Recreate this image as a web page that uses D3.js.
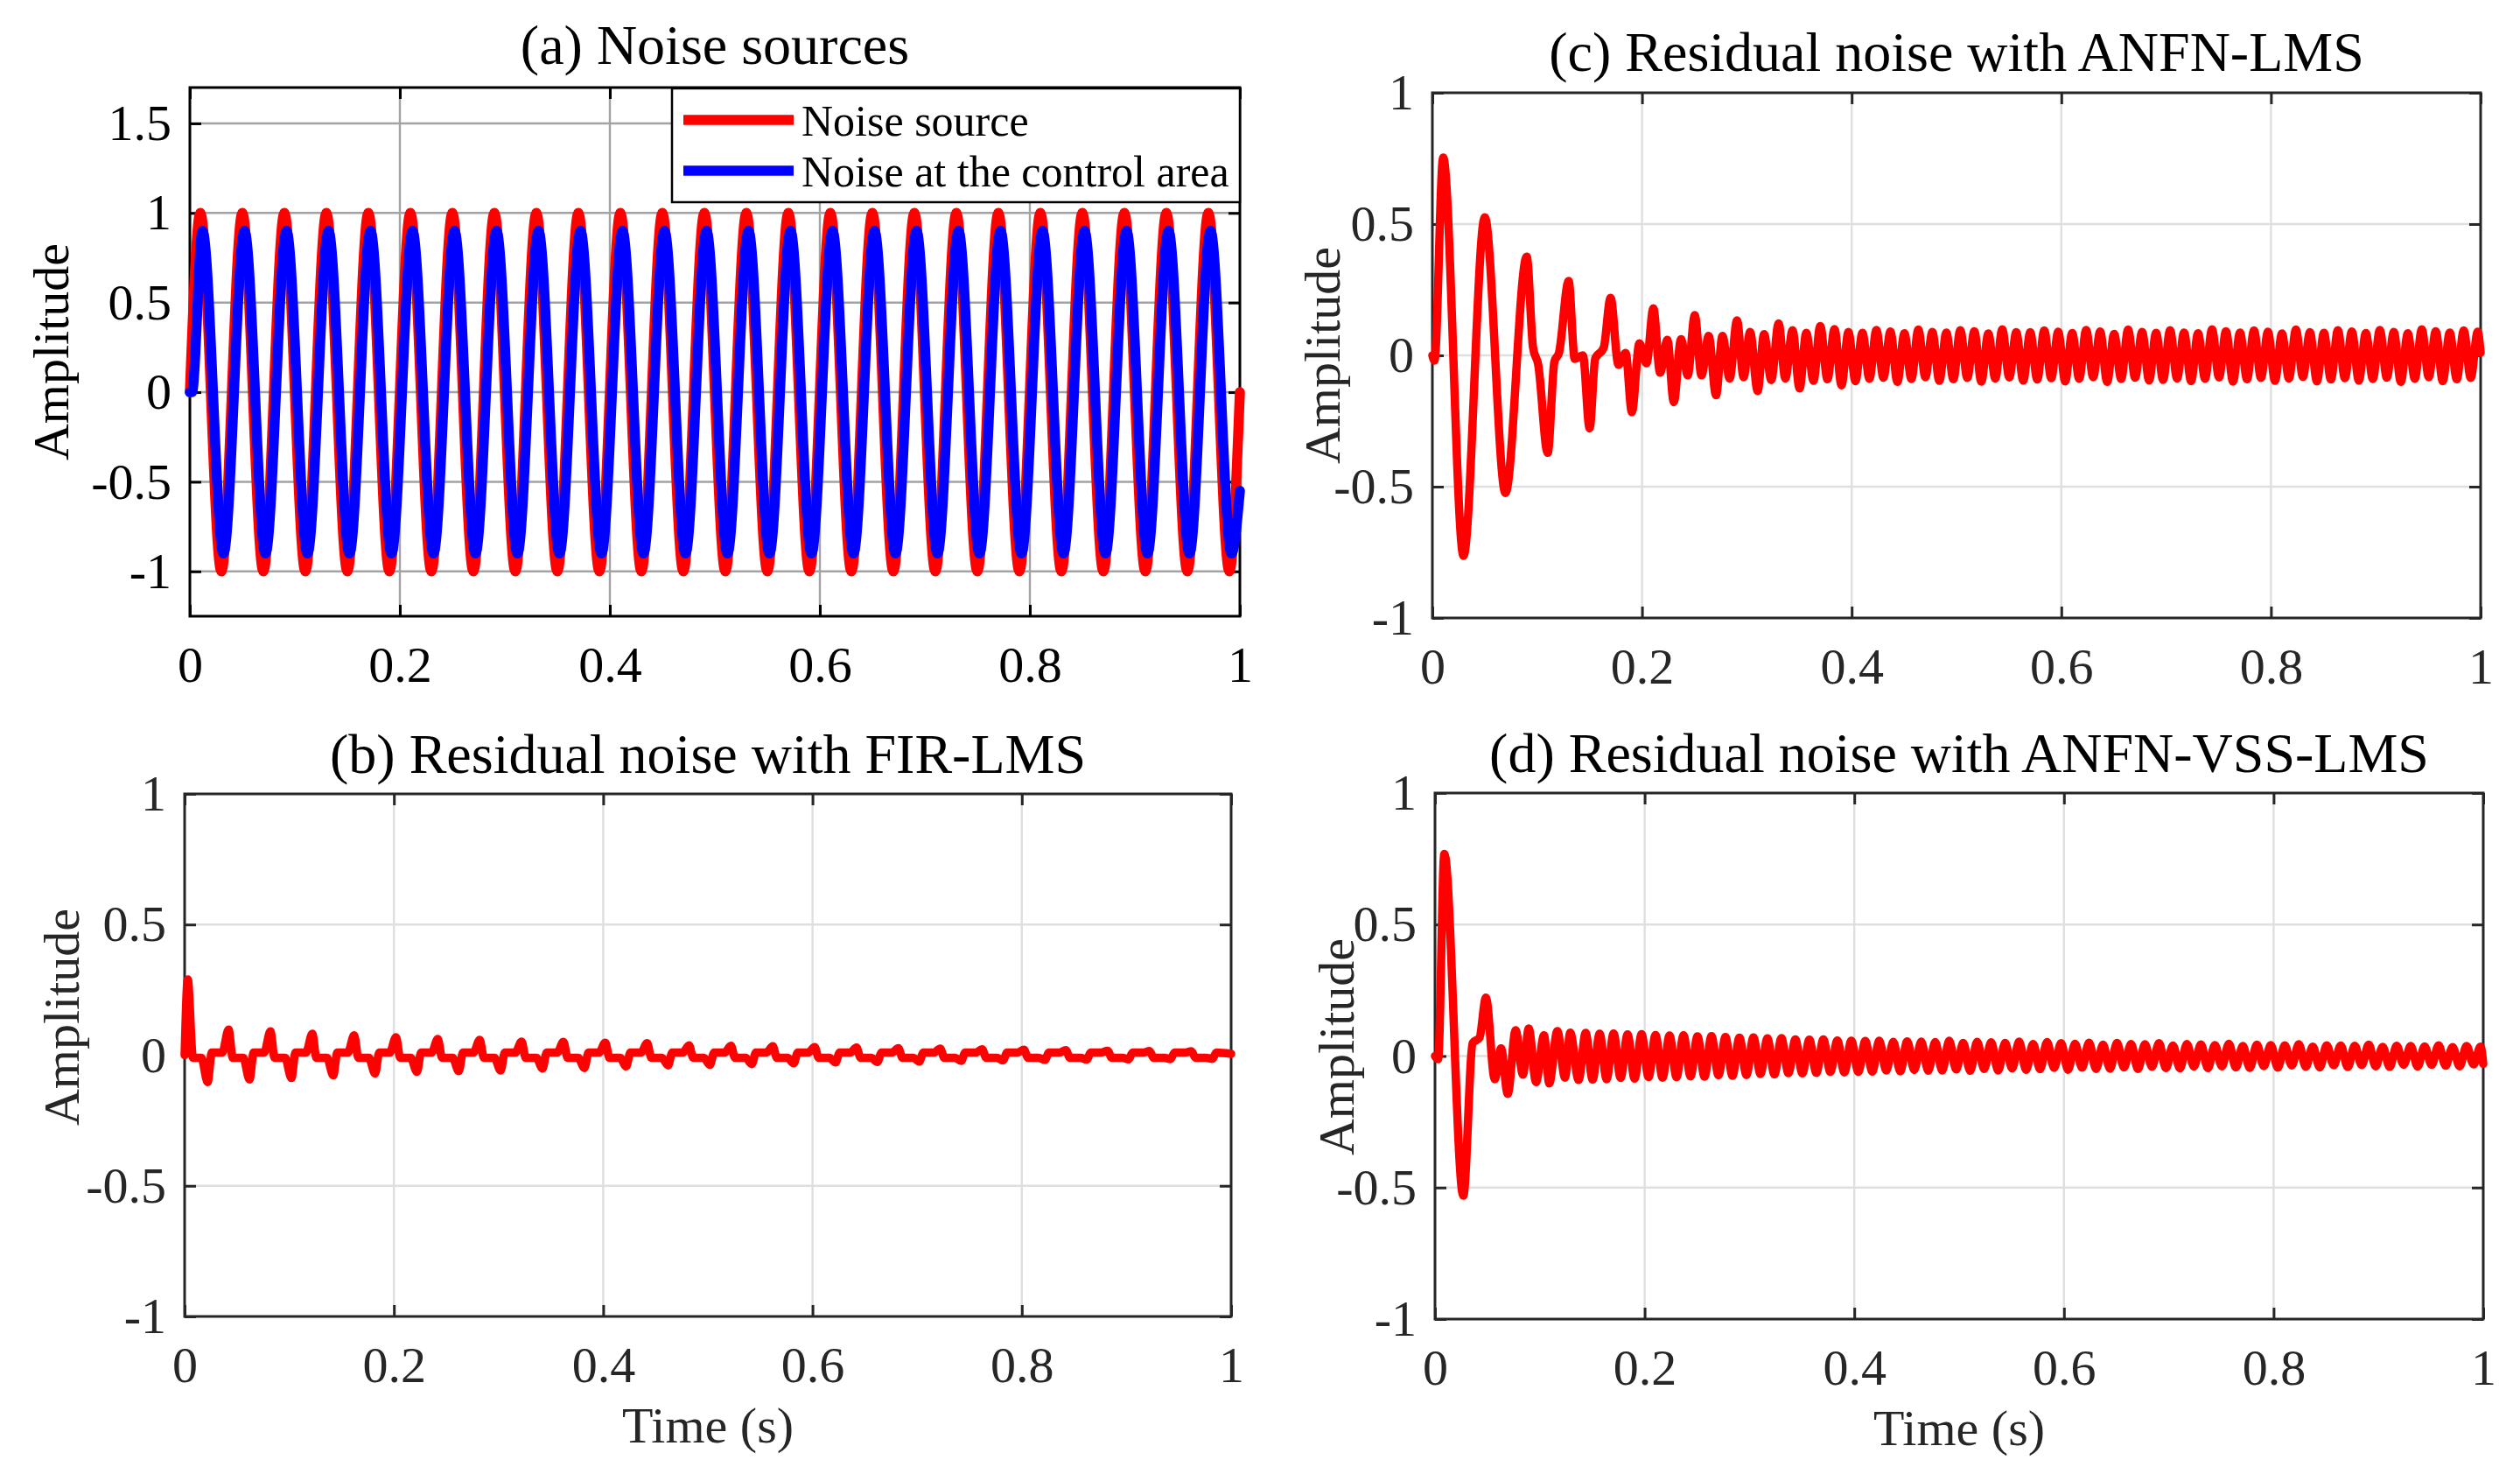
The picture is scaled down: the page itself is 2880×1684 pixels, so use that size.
<!DOCTYPE html>
<html><head><meta charset="utf-8">
<script src="https://cdn.jsdelivr.net/npm/d3@7"></script>
<style>
html,body{margin:0;padding:0;background:#fff;}
svg{display:block;}
</style></head><body>
<svg id="chart" width="2880" height="1684"></svg>
<script>
// ---------- tick labels / text ----------
const xTicks = [0, 0.2, 0.4, 0.6, 0.8, 1];
const xTickLabels = ["0", "0.2", "0.4", "0.6", "0.8", "1"];
const yTicksA = [-1, -0.5, 0, 0.5, 1, 1.5];
const yTickLabelsA = ["-1", "-0.5", "0", "0.5", "1", "1.5"];
const yTicksR = [-1, -0.5, 0, 0.5, 1];
const yTickLabelsR = ["-1", "-0.5", "0", "0.5", "1"];
const panelTitles = ["(a) Noise sources", "(b) Residual noise with FIR-LMS", "(c) Residual noise with ANFN-LMS", "(d) Residual noise with ANFN-VSS-LMS"];
const legendLabels = ["Noise source", "Noise at the control area"];
const yLabel = "Amplitude";
const xLabel = "Time (s)";

// ---------- (a) noise sources: extreme points ----------
const aSourceT = [0,0.01,0.03,0.05,0.07,0.09,0.11,0.13,0.15,0.17,0.19,0.21,0.23,0.25,0.27,0.29,0.31,0.33,0.35,0.37,0.39,0.41,0.43,0.45,0.47,0.49,0.51,0.53,0.55,0.57,0.59,0.61,0.63,0.65,0.67,0.69,0.71,0.73,0.75,0.77,0.79,0.81,0.83,0.85,0.87,0.89,0.91,0.93,0.95,0.97,0.99,1];
const aSourceV = [0,1,-1,1,-1,1,-1,1,-1,1,-1,1,-1,1,-1,1,-1,1,-1,1,-1,1,-1,1,-1,1,-1,1,-1,1,-1,1,-1,1,-1,1,-1,1,-1,1,-1,1,-1,1,-1,1,-1,1,-1,1,-1,0];
const aControlT = [0,0.002,0.012,0.032,0.052,0.072,0.092,0.112,0.132,0.152,0.172,0.192,0.212,0.232,0.252,0.272,0.292,0.312,0.332,0.352,0.372,0.392,0.412,0.432,0.452,0.472,0.492,0.512,0.532,0.552,0.572,0.592,0.612,0.632,0.652,0.672,0.692,0.712,0.732,0.752,0.772,0.792,0.812,0.832,0.852,0.872,0.892,0.912,0.932,0.952,0.972,0.992,1];
const aControlV = [0,0,0.9,-0.9,0.9,-0.9,0.9,-0.9,0.9,-0.9,0.9,-0.9,0.9,-0.9,0.9,-0.9,0.9,-0.9,0.9,-0.9,0.9,-0.9,0.9,-0.9,0.9,-0.9,0.9,-0.9,0.9,-0.9,0.9,-0.9,0.9,-0.9,0.9,-0.9,0.9,-0.9,0.9,-0.9,0.9,-0.9,0.9,-0.9,0.9,-0.9,0.9,-0.9,0.9,-0.9,0.9,-0.9,-0.55];

// ---------- (b) FIR-LMS residual: spikes ----------
const bStartT = [0, 0.003, 0.008];
const bStartV = [0, 0.29, -0.01];
const bPosT = [0.042,0.082,0.122,0.162,0.202,0.242,0.282,0.322,0.362,0.402,0.442,0.482,0.522,0.562,0.602,0.642,0.682,0.722,0.762,0.802,0.842,0.882,0.922,0.962];
const bPosV = [0.098,0.091,0.082,0.076,0.069,0.062,0.059,0.052,0.051,0.048,0.046,0.038,0.036,0.034,0.031,0.029,0.027,0.025,0.023,0.021,0.019,0.017,0.016,0.015];
const bNegT = [0.022,0.062,0.102,0.142,0.182,0.222,0.262,0.302,0.342,0.382,0.422,0.462,0.502,0.542,0.582,0.622,0.662,0.702,0.742,0.782,0.822,0.862,0.902,0.942,0.982];
const bNegV = [-0.103,-0.093,-0.087,-0.077,-0.070,-0.064,-0.061,-0.059,-0.051,-0.049,-0.043,-0.039,-0.037,-0.034,-0.031,-0.028,-0.026,-0.024,-0.022,-0.020,-0.018,-0.017,-0.016,-0.015,-0.014];
const bLevelAfterPos = -0.01;
const bLevelAfterNeg = 0.01;
const bEnd = [1, 0.005];

// ---------- (c) ANFN-LMS residual ----------
const cT = [0,0.002,0.0103,0.0297,0.050,0.0697,0.090,0.096,0.101,0.110,0.1164,0.1208,0.130,0.1358,0.1436,0.150,0.1553,0.1635,0.170,0.1775,0.1844,0.1903,0.1975,0.2043,0.2108,0.2172,0.2242,0.2303,0.2372,0.2436,0.2503,0.2567,0.2636,0.2706,0.2767,0.2836,0.2906,0.2969,0.3031,0.3103,0.3164,0.3233,0.3303,0.3367,0.3436,0.3503,0.3567,0.3636,0.3700,0.3769,0.3836,0.3903,0.3969];
const cV = [0,-0.02,0.753,-0.763,0.526,-0.524,0.376,0.031,-0.036,-0.371,-0.024,0.01,0.283,-0.013,0.0,-0.278,-0.013,0.03,0.219,-0.036,0.009,-0.216,0.046,-0.03,0.179,-0.066,0.059,-0.178,0.062,-0.076,0.153,-0.076,0.074,-0.152,0.074,-0.088,0.133,-0.083,0.089,-0.136,0.081,-0.094,0.122,-0.088,0.096,-0.126,0.086,-0.097,0.112,-0.091,0.100,-0.114,0.089];
const cSteadyStart = 0.4036, cSteadyStep = 0.00667;
const cSteadyV = [
 -0.098,0.086,-0.089,0.097,-0.085,0.091,
 -0.101,0.084,-0.090,0.098,-0.083,0.089,
 -0.097,0.087,-0.091,0.096,-0.086,0.092,
 -0.100,0.083,-0.088,0.099,-0.084,0.088,
 -0.096,0.088,-0.092,0.095,-0.087,0.090,
 -0.099,0.085,-0.089,0.097,-0.083,0.091,
 -0.101,0.082,-0.090,0.098,-0.085,0.089,
 -0.095,0.086,-0.093,0.096,-0.088,0.087,
 -0.098,0.084,-0.089,0.099,-0.084,0.092,
 -0.100,0.087,-0.091,0.095,-0.086,0.090,
 -0.097,0.083,-0.088,0.098,-0.082,0.088,
 -0.099,0.086,-0.092,0.096,-0.087,0.091,
 -0.096,0.085,-0.090,0.097,-0.085,0.089,
 -0.101,0.084,-0.089,0.099,-0.083,0.092,
 -0.098,0.087,-0.091,0.095,-0.086,0.090];
const cEnd = [1, 0.01];

// ---------- (d) ANFN-VSS-LMS residual ----------
const dT = [0,0.003,0.0089,0.027,0.036,0.0425,0.0486,0.057,0.063,0.0694,0.0769,0.0839,0.0894,0.0964,0.104,0.109,0.1167,0.124,0.129,0.137];
const dV = [0,-0.012,0.769,-0.531,0.05,0.07,0.222,-0.088,0.029,-0.144,0.098,-0.071,0.105,-0.099,0.079,-0.104,0.095,-0.082,0.089,-0.091];
const dSteadyStart = 0.1437, dSteadyStep = 0.00667;
const dSteadyV = [
 0.088,-0.090,0.085,-0.088,0.086,-0.083,0.082,-0.086,0.083,-0.080,
 0.080,-0.082,0.078,-0.080,0.079,-0.077,0.075,-0.078,0.076,-0.073,
 0.072,-0.075,0.070,-0.072,0.071,-0.068,0.067,-0.070,0.068,-0.065,
 0.063,-0.066,0.062,-0.064,0.063,-0.060,0.059,-0.062,0.058,-0.060,
 0.057,-0.059,0.058,-0.055,0.054,-0.058,0.056,-0.053,0.055,-0.056,
 0.053,-0.055,0.058,-0.051,0.050,-0.056,0.054,-0.049,0.052,-0.055,
 0.050,-0.047,0.055,-0.052,0.046,-0.050,0.053,-0.045,0.049,-0.052,
 0.047,-0.044,0.051,-0.049,0.043,-0.048,0.050,-0.043,0.046,-0.049,
 0.045,-0.041,0.049,-0.046,0.040,-0.047,0.046,-0.040,0.044,-0.046,
 0.042,-0.039,0.047,-0.043,0.038,-0.045,0.043,-0.038,0.042,-0.044,
 0.041,-0.036,0.045,-0.041,0.036,-0.043,0.041,-0.035,0.040,-0.042,
 0.039,-0.034,0.043,-0.039,0.035,-0.041,0.039,-0.033,0.038,-0.040,
 0.037,-0.033,0.041,-0.037,0.034,-0.039,0.038,-0.032,0.036];
const dEnd = [1, -0.03];

// ---------- build point lists ----------
const zip = (T, V) => T.map((t, i) => ({t, v: V[i]}));
const steady = (start, step, V) => V.map((v, i) => ({t: start + i * step, v}));

const aSource = zip(aSourceT, aSourceV);
const aControl = zip(aControlT, aControlV);

let bPts = zip(bStartT, bStartV);
bNegT.forEach((t, i) => { bPts.push({t: t - 0.006, v: bLevelAfterPos}, {t, v: bNegV[i]}, {t: t + 0.004, v: bLevelAfterNeg}); });
bPosT.forEach((t, i) => { bPts.push({t: t - 0.006, v: bLevelAfterNeg}, {t, v: bPosV[i]}, {t: t + 0.004, v: bLevelAfterPos}); });
bPts.push({t: bEnd[0], v: bEnd[1]});
bPts.sort((p, q) => p.t - q.t);

const cPts = zip(cT, cV).concat(steady(cSteadyStart, cSteadyStep, cSteadyV), [{t: cEnd[0], v: cEnd[1]}]);
const dPts = zip(dT, dV).concat(steady(dSteadyStart, dSteadyStep, dSteadyV), [{t: dEnd[0], v: dEnd[1]}]);

// ---------- drawing ----------
const FONT = "'Liberation Serif','Times New Roman',Times,serif";
const svg = d3.select("#chart");
svg.append("rect").attr("width", 2880).attr("height", 1684).attr("fill", "#fff");

const panels = [
  {title: panelTitles[0], L: 217, R: 1417, T: 100, B: 704, yDom: [-1.25, 1.7], yT: yTicksA, yTL: yTickLabelsA,
   axisColor: "#000", gridColor: "#a3a3a3", textColor: "#000", titleY: 73, ylabX: 78, ylabY: 402, xlabY: null,
   series: [{pts: aSource, color: "#ff0000", w: 11.5}, {pts: aControl, color: "#0000ff", w: 11.5}], legend: true},
  {title: panelTitles[1], L: 211, R: 1407, T: 907, B: 1504, yDom: [-1, 1], yT: yTicksR, yTL: yTickLabelsR,
   axisColor: "#262626", gridColor: "#dfdfdf", textColor: "#262626", titleY: 883, ylabX: 90, ylabY: 1162, xlabY: 1648,
   series: [{pts: bPts, color: "#ff0000", w: 9.5}]},
  {title: panelTitles[2], L: 1637, R: 2835, T: 106, B: 706, yDom: [-1, 1], yT: yTicksR, yTL: yTickLabelsR,
   axisColor: "#262626", gridColor: "#dfdfdf", textColor: "#262626", titleY: 81, ylabX: 1531, ylabY: 406, xlabY: null,
   series: [{pts: cPts, color: "#ff0000", w: 9.5}]},
  {title: panelTitles[3], L: 1640, R: 2838, T: 906, B: 1507, yDom: [-1, 1], yT: yTicksR, yTL: yTickLabelsR,
   axisColor: "#262626", gridColor: "#dfdfdf", textColor: "#262626", titleY: 882, ylabX: 1547, ylabY: 1196, xlabY: 1651,
   series: [{pts: dPts, color: "#ff0000", w: 9.5}]}
];

function styleAxis(sel, color, showText) {
  sel.attr("font-family", FONT).attr("font-size", 58).style("color", color);
  sel.select(".domain").remove();
  sel.selectAll(".tick line").attr("stroke-width", 3);
  if (!showText) sel.selectAll(".tick text").remove();
}

panels.forEach(p => {
  const g = svg.append("g");
  const x = d3.scaleLinear().domain([0, 1]).range([p.L, p.R]);
  const y = d3.scaleLinear().domain(p.yDom).range([p.B, p.T]);

  // grid
  g.append("g").selectAll("line").data(xTicks.filter(t => x(t) > p.L + 1 && x(t) < p.R - 1)).join("line")
    .attr("x1", d => x(d)).attr("x2", d => x(d)).attr("y1", p.T).attr("y2", p.B)
    .attr("stroke", p.gridColor).attr("stroke-width", 2.4);
  g.append("g").selectAll("line").data(p.yT.filter(t => y(t) > p.T + 1 && y(t) < p.B - 1)).join("line")
    .attr("x1", p.L).attr("x2", p.R).attr("y1", d => y(d)).attr("y2", d => y(d))
    .attr("stroke", p.gridColor).attr("stroke-width", 2.4);

  // axes (inner ticks on all sides)
  g.append("g").attr("transform", `translate(0,${p.B})`)
    .call(d3.axisBottom(x).tickValues(xTicks).tickFormat((d, i) => xTickLabels[i]).tickSize(-13).tickSizeOuter(0).tickPadding(34))
    .call(s => styleAxis(s, p.axisColor, true));
  g.append("g").attr("transform", `translate(0,${p.T})`)
    .call(d3.axisTop(x).tickValues(xTicks).tickFormat("").tickSize(-13).tickSizeOuter(0))
    .call(s => styleAxis(s, p.axisColor, false));
  g.append("g").attr("transform", `translate(${p.L},0)`)
    .call(d3.axisLeft(y).tickValues(p.yT).tickFormat((d, i) => p.yTL[i]).tickSize(-13).tickSizeOuter(0).tickPadding(21))
    .call(s => styleAxis(s, p.axisColor, true));
  g.append("g").attr("transform", `translate(${p.R},0)`)
    .call(d3.axisRight(y).tickValues(p.yT).tickFormat("").tickSize(-13).tickSizeOuter(0))
    .call(s => styleAxis(s, p.axisColor, false));
  g.selectAll(".tick text").attr("fill", p.textColor);

  // box
  g.append("rect").attr("x", p.L).attr("y", p.T).attr("width", p.R - p.L).attr("height", p.B - p.T)
    .attr("fill", "none").attr("stroke", p.axisColor).attr("stroke-width", 3);

  // data
  const line = d3.line().x(d => x(d.t)).y(d => y(d.v)).curve(d3.curveMonotoneX);
  p.series.forEach(s => {
    g.append("path").datum(s.pts).attr("d", line).attr("fill", "none")
      .attr("stroke", s.color).attr("stroke-width", s.w)
      .attr("stroke-linejoin", "round").attr("stroke-linecap", "round");
  });

  // title
  g.append("text").attr("x", (p.L + p.R) / 2).attr("y", p.titleY).attr("text-anchor", "middle")
    .attr("font-family", FONT).attr("font-size", 64).attr("fill", "#000").text(p.title);
  // y label
  g.append("text").attr("transform", `translate(${p.ylabX},${p.ylabY}) rotate(-90)`).attr("text-anchor", "middle")
    .attr("font-family", FONT).attr("font-size", 58).attr("fill", p.textColor).text(yLabel);
  // x label
  if (p.xlabY) {
    g.append("text").attr("x", (p.L + p.R) / 2).attr("y", p.xlabY).attr("text-anchor", "middle")
      .attr("font-family", FONT).attr("font-size", 58).attr("fill", p.textColor).text(xLabel);
  }

  // legend
  if (p.legend) {
    const lg = g.append("g");
    lg.append("rect").attr("x", 768).attr("y", 101).attr("width", p.R - 768).attr("height", 130)
      .attr("fill", "#fff").attr("stroke", "#000").attr("stroke-width", 2.5);
    const rowsY = [137, 195];
    p.series.forEach((s, i) => {
      lg.append("line").attr("x1", 781).attr("x2", 907).attr("y1", rowsY[i]).attr("y2", rowsY[i])
        .attr("stroke", s.color).attr("stroke-width", s.w);
      lg.append("text").attr("x", 916).attr("y", rowsY[i] + 18).attr("font-family", FONT)
        .attr("font-size", 50).attr("fill", "#000").text(legendLabels[i]);
    });
  }
});
</script>
</body></html>
